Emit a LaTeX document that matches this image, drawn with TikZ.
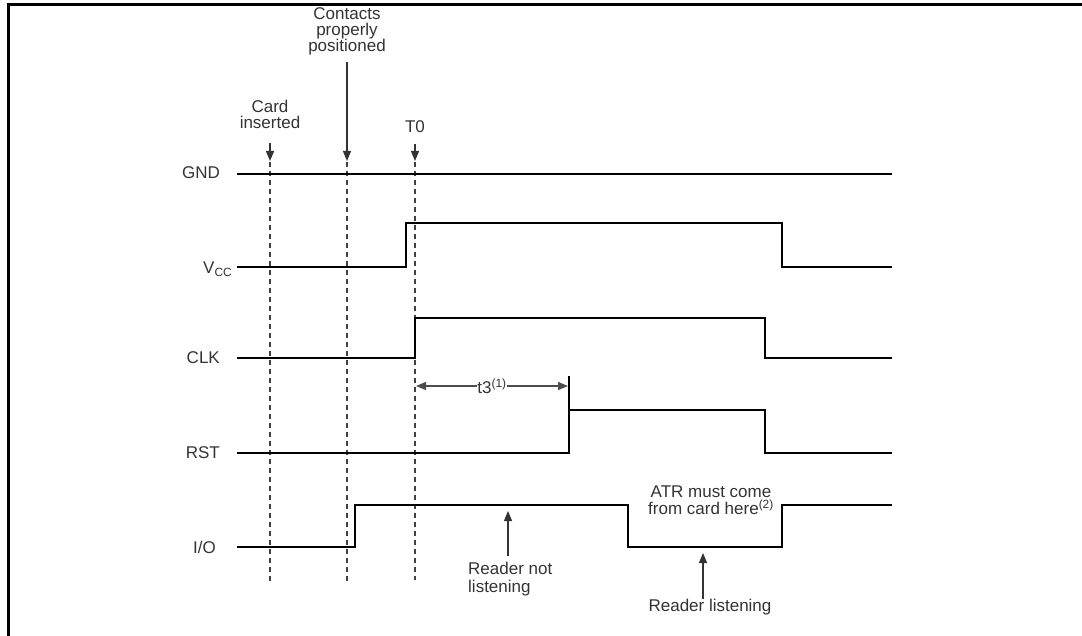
\documentclass[tikz,border=0pt]{standalone}
\usepackage{fontspec}
\setmainfont{Liberation Sans}
\usetikzlibrary{arrows.meta}
\begin{document}
\begin{tikzpicture}[x=1pt,y=-1pt,
  sig/.style={line width=2.6pt, line join=miter, black},
  guide/.style={line width=1.6pt, dash pattern=on 5pt off 4pt, black!75},
  lbl/.style={font=\fontsize{17}{17.5}\selectfont, text=black!80, inner sep=0pt, align=center},
  tight/.style={font=\fontsize{17}{16}\selectfont},
  pointer/.style={line width=1.2pt, black!80, -{Triangle[width=8pt,length=10pt]}},
  span/.style={line width=1.2pt, black!70, {Triangle[width=8pt,length=10pt]}-{Triangle[width=8pt,length=10pt]}}]
\useasboundingbox (0,0) rectangle (1082,636);
% frame
\draw[line width=3pt] (8,636) -- (8,5) -- (1082,5);
% guide lines
\draw[guide] (270,162) -- (270,582);
\draw[guide] (347,162) -- (347,582);
\draw[guide] (415,162) -- (415,580);
% event labels
\node[lbl, tight, anchor=south] (cont) at (347,55) {Contacts\\properly\\positioned};
\node[lbl, tight, anchor=south] (card) at (270,129) {Card\\inserted};
\node[lbl, anchor=south] (tzero) at (415,133) {T0};
\coordinate (cardtip) at (270,161);
\coordinate (conttip) at (347,161);
\coordinate (tzerotip) at (415,161);
\draw[pointer] (270,143) -- (cardtip);
\draw[pointer] (347,62) -- (conttip);
\draw[pointer] (415,144) -- (tzerotip);
% signal names
\node[lbl, anchor=east] (gnd) at (220,173) {GND};
\node[lbl, anchor=base west] (vcc) at (203,274) {V\textsubscript{CC}};
\node[lbl, anchor=east] (clk) at (220,358) {CLK};
\node[lbl, anchor=east] (rst) at (220,453) {RST};
\node[lbl, anchor=east] (io) at (216,547) {I/O};
% waveforms
\draw[sig] (237,174) -- (892,174);
\draw[sig] (237,267) -- (406,267) -- (406,223) -- (782,223) -- (782,267) -- (892,267);
\draw[sig] (237,358) -- (415,358) -- (415,318) -- (765,318) -- (765,358) -- (892,358);
\draw[sig] (237,453) -- (569,453) -- (569,410) -- (765,410) -- (765,453) -- (892,453);
\draw[line width=1.6pt] (569,410) -- (569,376);
\draw[sig] (237,547) -- (355,547) -- (355,505) -- (628,505) -- (628,547) -- (782,547) -- (782,505) -- (892,505);
% t3
\coordinate (tA) at (416,386);
\coordinate (tB) at (568,386);
\draw[span] (tA) -- (tB) node[midway, fill=white, inner xsep=3pt, inner ysep=1pt, lbl] (t3) {t3\textsuperscript{(1)}};
% annotations
\node[lbl] (atr) at (711,500) {ATR must come\\from card here\textsuperscript{(2)}};
\node[lbl, anchor=north west, align=left] (rnl) at (468,562) {Reader not\\listening};
\draw[pointer] (508,556) -- (508,511);
\node[lbl, anchor=north] (rl) at (710,599) {Reader listening};
\draw[pointer] (703,599) -- (703,553);
\end{tikzpicture}
\end{document}
